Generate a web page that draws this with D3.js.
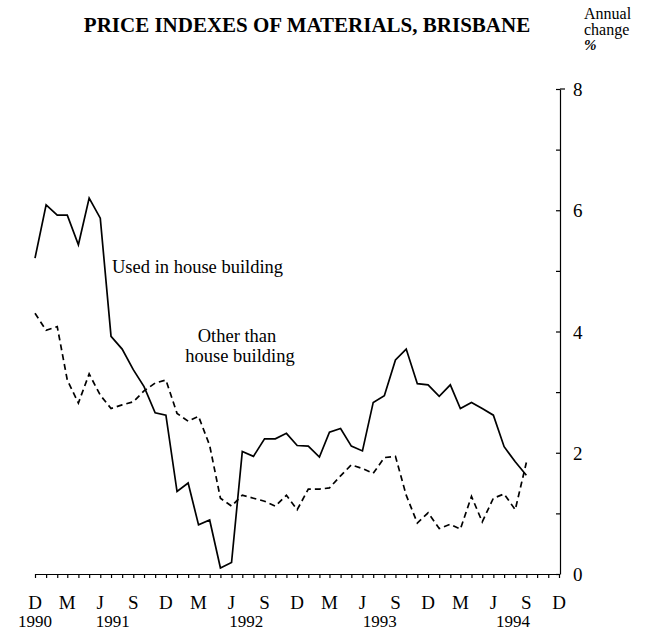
<!DOCTYPE html>
<html>
<head>
  <meta charset="utf-8">
  <title>Price indexes of materials, Brisbane</title>
  <script src="https://d3js.org/d3.v7.min.js"></script>
  <style>
    body { margin: 0; background: #fff; }
    svg { font-family: "Liberation Serif", "DejaVu Serif", serif; }
    .line { fill: none; stroke: #000; stroke-width: 1.7; }
    .dashed { stroke-dasharray: 6,4; }
  </style>
</head>
<body>
  <script>
    // monthly annual change (%), Dec 1990 .. Sep 1994
    var houseBuilding = [
      5.21, 6.09, 5.92, 5.92, 5.43, 6.2, 5.87, 3.92, 3.71, 3.37, 3.09, 2.66,
      2.62, 1.36, 1.5, 0.81, 0.89, 0.1, 0.19, 2.02, 1.94, 2.23, 2.23, 2.32,
      2.12, 2.11, 1.93, 2.34, 2.4, 2.11, 2.03, 2.83, 2.94, 3.53, 3.71, 3.14,
      3.12, 2.93, 3.12, 2.73, 2.83, 2.73, 2.62, 2.1, 1.85, 1.63
    ];
    var otherBuilding = [
      4.3, 4.02, 4.08, 3.2, 2.82, 3.3, 2.95, 2.73, 2.79, 2.84, 3.02, 3.15,
      3.2, 2.65, 2.52, 2.6, 2.12, 1.25, 1.12, 1.3, 1.25, 1.2, 1.12, 1.3,
      1.06, 1.4, 1.4, 1.42, 1.62, 1.8, 1.74, 1.66, 1.92, 1.94, 1.3, 0.84,
      1.01, 0.75, 0.82, 0.74, 1.28, 0.86, 1.25, 1.32, 1.06, 1.84
    ];
    var monthLetters = ["D", "M", "J", "S"];
    var yearLabels = ["1990", "1991", "1992", "1993", "1994"];
    var yearMonths = [0, 7, 19, 31, 43]; // months after Dec 1990
    var yTicks = [0, 2, 4, 6, 8];

    var svg = d3.select("body").append("svg")
      .attr("width", 652)
      .attr("height", 633);

    var x = d3.scaleTime()
      .domain([new Date(1990, 11, 1), new Date(1994, 11, 1)])
      .range([35, 559]);
    var y = d3.scaleLinear().domain([0, 8]).range([574, 89]);

    function monthDate(i) { return new Date(1990, 11 + i, 1); }
    var monthStep = x(monthDate(1)) - x(monthDate(0));

    // bottom axis: monthly ticks hanging down
    var months = d3.range(0, 49).map(monthDate);
    svg.append("g")
      .attr("transform", "translate(0," + y(0) + ")")
      .call(d3.axisBottom(x).tickValues(months).tickSize(4).tickFormat("").tickSizeOuter(0))
      .call(g => g.selectAll("line, path").attr("stroke", "#000").attr("stroke-width", 1.2));

    // quarter letters
    var quarters = d3.range(0, 49, 3);
    svg.append("g").selectAll("text")
      .data(quarters)
      .enter().append("text")
      .attr("x", d => x(monthDate(d)))
      .attr("y", 609)
      .attr("text-anchor", "middle")
      .attr("font-size", 19)
      .text((d, i) => monthLetters[i % 4]);

    svg.append("g").selectAll("text")
      .data(yearLabels)
      .enter().append("text")
      .attr("x", (d, i) => x(monthDate(0)) + monthStep * yearMonths[i])
      .attr("y", 627)
      .attr("text-anchor", "middle")
      .attr("font-size", 17)
      .text(d => d);

    // right axis
    svg.append("g")
      .attr("transform", "translate(560,0)")
      .call(d3.axisLeft(y).tickValues(d3.range(0, 9)).tickSize(4).tickFormat("").tickSizeOuter(0))
      .call(g => g.selectAll("line, path").attr("stroke", "#000").attr("stroke-width", 1.2));
    svg.append("line")
      .attr("x1", 560).attr("x2", 565)
      .attr("y1", y(8)).attr("y2", y(8))
      .attr("stroke", "#000").attr("stroke-width", 1.2);

    svg.append("g").selectAll("text")
      .data(yTicks)
      .enter().append("text")
      .attr("x", 573)
      .attr("y", d => y(d) + 7)
      .attr("font-size", 19)
      .text(d => d);

    // unit label
    svg.append("text").attr("x", 584).attr("y", 19).attr("font-size", 16).text("Annual");
    svg.append("text").attr("x", 584).attr("y", 35).attr("font-size", 16).text("change");
    svg.append("text").attr("x", 584).attr("y", 50).attr("font-size", 15).attr("font-style", "italic").attr("font-weight", "bold").text("%");

    // title
    svg.append("text")
      .attr("x", 307).attr("y", 32)
      .attr("text-anchor", "middle")
      .attr("font-size", 21)
      .attr("font-weight", "bold")
      .text("PRICE INDEXES OF MATERIALS, BRISBANE");

    // lines
    var line = d3.line()
      .x((d, i) => x(monthDate(i)))
      .y(d => y(d));

    svg.append("path").datum(otherBuilding)
      .attr("class", "line dashed")
      .attr("d", line);
    svg.append("path").datum(houseBuilding)
      .attr("class", "line")
      .attr("d", line);

    // series labels
    svg.append("text").attr("x", 112).attr("y", 273).attr("font-size", 18.5).text("Used in house building");
    svg.append("text").attr("x", 237).attr("y", 342).attr("text-anchor", "middle").attr("font-size", 18.5).text("Other than");
    svg.append("text").attr("x", 240).attr("y", 362).attr("text-anchor", "middle").attr("font-size", 18.5).text("house building");
  </script>
</body>
</html>
